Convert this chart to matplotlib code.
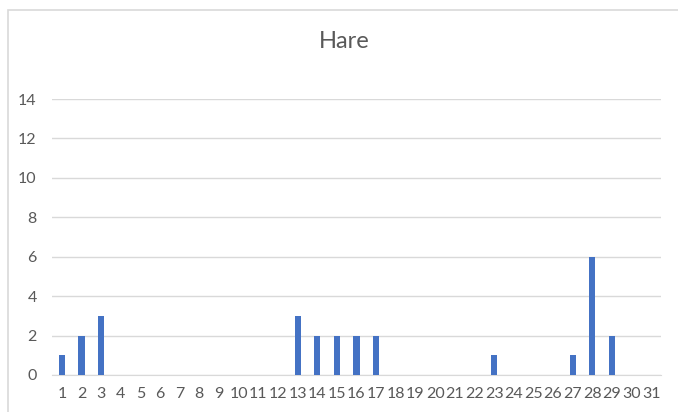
import matplotlib.pyplot as plt
from matplotlib.patches import Rectangle

# Data
days = list(range(1, 32))
counts = [1, 2, 3, 0, 0, 0, 0, 0, 0, 0, 0, 0, 3, 2, 2, 2, 2, 0, 0, 0,
          0, 0, 1, 0, 0, 0, 1, 6, 2, 0, 0]
y_ticks = [0, 2, 4, 6, 8, 10, 12, 14]

plt.rcParams["font.family"] = ["Lato", "DejaVu Sans"]
text_color = "#595959"
grid_color = "#D9D9D9"

fig = plt.figure(figsize=(6.78, 4.12), dpi=100)
ax = fig.add_axes([52 / 678, 1 - 375 / 412, (661 - 52) / 678, (375 - 99) / 412])

ax.bar(days, counts, width=0.31, color="#4472C4", zorder=3)

ax.set_xlim(0.5, 31.5)
ax.set_ylim(0, 14)
ax.set_yticks(y_ticks)
ax.set_xticks(days)
ax.set_xticklabels([str(d) for d in days])
ax.yaxis.grid(True, color=grid_color, linewidth=1, zorder=0)
ax.tick_params(length=0, colors=text_color, labelsize=11.5)
ax.tick_params(axis="y", pad=11)
ax.tick_params(axis="x", pad=9)
for side in ["top", "right", "left"]:
    ax.spines[side].set_visible(False)
ax.spines["bottom"].set_color(grid_color)

fig.text(344 / 678, 1 - 42 / 412, "Hare", ha="center", va="center",
         fontsize=17, color=text_color)

# chart border (only top/left visible in frame)
fig.patches.append(Rectangle((7.5 / 678, -0.05), 1.2, 1 - 9.5 / 412 + 0.05,
                             transform=fig.transFigure, fill=False,
                             edgecolor="#D9D9D9", linewidth=1.2))

fig.savefig("out.png", dpi=100)
